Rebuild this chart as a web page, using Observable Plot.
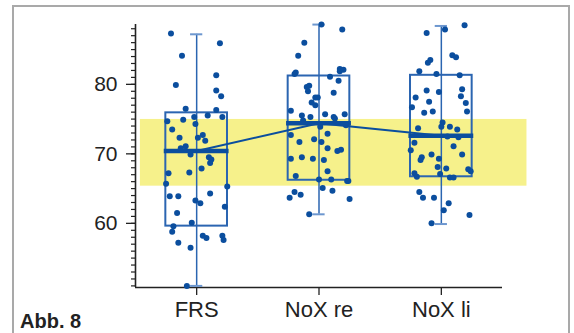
<!DOCTYPE html>
<html><head><meta charset="utf-8">
<script src="https://cdn.jsdelivr.net/npm/d3@7"></script>
<script src="https://cdn.jsdelivr.net/npm/@observablehq/plot@0.6"></script>
<style>
html,body{margin:0;padding:0;overflow:hidden;background:#fff;}
#wrap{position:relative;width:574px;height:333px;overflow:hidden;font-family:"Liberation Sans",Arial,sans-serif;}
#frame{position:absolute;left:12px;top:5px;width:554px;height:400px;border:2px solid #a9a9a9;}
#chart{position:absolute;left:0;top:0;}
#caption{position:absolute;left:20px;top:311px;font-size:20px;line-height:20px;font-weight:bold;color:#222;}
</style></head>
<body><div id="wrap"><div id="frame"></div><div id="chart"></div><div id="caption">Abb. 8</div></div>
<script>
// Categories and tick labels
const categories = ["FRS", "NoX re", "NoX li"];
const yMinorTicks = d3.range(51, 89);
const yMajorTicks = [60, 70, 80];
const yDomain = [50.77, 88.61];

// Box plot statistics per category
const q1 = [59.6, 66.2, 66.7];
const median = [70.4, 74.4, 72.6];
const q3 = [75.9, 81.2, 81.3];
const whiskerLo = [51.0, 61.3, 59.9];
const whiskerHi = [87.2, 88.6, 88.4];

// Reference range (yellow band): values and horizontal extent in category units
const refRange = [65.35, 74.95];
const refExtent = [0.54, 3.70];

// Individual observations: [horizontal jitter in category units, value]
const frsPoints = [[-0.21,87.3],[0.19,85.9],[-0.12,84.1],[0.16,81.3],[-0.17,79.9],[0.16,79.1],[0.20,78.3],[-0.09,76.5],[0.16,76.3],[-0.24,74.7],[-0.11,74.9],[-0.02,75.3],[0.09,75.5],[0.21,75.3],[-0.01,74.3],[-0.20,73.5],[-0.14,72.3],[0.01,72.3],[0.05,72.7],[0.07,71.9],[-0.09,71.1],[-0.13,70.8],[-0.05,69.9],[0.10,69.5],[0.12,69.2],[0.11,68.7],[-0.23,67.2],[-0.06,67.3],[0.04,67.9],[-0.25,65.7],[0.25,65.3],[-0.22,63.9],[-0.15,63.9],[0.11,64.3],[-0.01,63.3],[0.03,62.9],[0.23,62.4],[-0.16,61.5],[-0.04,60.1],[-0.19,59.6],[-0.20,58.8],[0.05,58.2],[0.08,57.9],[0.21,58.2],[0.22,57.6],[-0.15,57.2],[-0.05,56.5],[-0.08,51.0]];
const noxRePoints = [[0.02,88.6],[0.19,87.9],[-0.12,86.0],[-0.17,84.1],[-0.20,81.5],[-0.19,81.7],[0.17,82.2],[0.17,81.9],[0.20,82.1],[0.09,81.1],[0.16,80.5],[-0.10,79.6],[-0.08,79.8],[-0.09,79.0],[0.12,78.8],[-0.03,78.1],[-0.01,78.1],[-0.06,77.4],[-0.03,77.0],[-0.23,76.2],[-0.14,75.5],[-0.07,75.3],[0.05,75.7],[0.12,75.3],[0.13,75.1],[0.21,75.7],[-0.13,74.8],[0.01,73.9],[0.22,74.1],[-0.23,72.7],[0.07,72.9],[-0.16,71.7],[-0.04,72.1],[0.02,71.7],[0.07,70.8],[0.15,70.4],[0.18,70.6],[-0.23,69.3],[-0.14,69.5],[-0.05,69.3],[0.04,69.1],[0.07,67.5],[-0.19,66.8],[0.00,66.3],[0.10,66.3],[0.23,66.1],[0.24,66.1],[0.03,65.1],[0.11,64.7],[-0.20,64.5],[-0.15,64.1],[-0.24,63.7],[0.25,63.5],[-0.08,61.3]];
const noxLiPoints = [[0.19,88.5],[0.03,87.9],[-0.12,87.4],[0.09,84.2],[0.12,83.9],[-0.09,83.5],[-0.11,83.1],[-0.18,81.9],[-0.04,81.5],[0.15,81.3],[-0.12,79.1],[-0.02,78.9],[0.17,79.3],[0.16,78.3],[-0.21,78.1],[-0.10,77.5],[0.20,77.3],[-0.24,76.7],[0.21,76.1],[-0.14,75.9],[-0.07,76.1],[0.01,74.5],[0.00,73.9],[0.07,73.9],[-0.19,73.7],[0.13,73.5],[0.14,72.4],[0.05,72.5],[-0.22,71.6],[0.10,71.1],[-0.25,70.5],[-0.08,69.9],[0.17,69.9],[-0.16,69.5],[-0.17,69.1],[-0.02,69.3],[-0.03,68.1],[0.04,67.9],[0.22,67.8],[0.24,67.5],[-0.22,67.2],[-0.20,66.7],[-0.01,67.1],[0.07,66.6],[0.10,66.6],[-0.18,64.5],[-0.15,63.7],[-0.06,63.7],[0.06,62.9],[0.02,61.9],[0.23,61.2],[-0.08,60.0]];

const boxHalf = 0.252, medHalf = 0.265, capHalf = 0.05;
const blueBox = "#2b65b1", dark = "#0b4e9e", capColor = "#6d97cf", axisColor = "#222";

const stats = categories.map((c, i) => ({pos: i + 1, q1: q1[i], med: median[i], q3: q3[i], lo: whiskerLo[i], hi: whiskerHi[i]}));
const points = [frsPoints, noxRePoints, noxLiPoints].flatMap((arr, i) => arr.map(([j, v]) => ({x: i + 1 + j, y: v})));

const chart = Plot.plot({
  width: 574, height: 333,
  marginLeft: 135, marginRight: 72, marginTop: 24, marginBottom: 46,
  x: {type: "linear", domain: [0.5, 3.5]},
  y: {domain: yDomain},
  style: {fontFamily: "Liberation Sans, Arial, sans-serif", color: axisColor, background: "transparent"},
  marks: [
    Plot.rect([refRange], {x1: () => refExtent[0], x2: () => refExtent[1], y1: d => d[0], y2: d => d[1], fill: "#f6f18b"}),
    Plot.axisY(yMinorTicks, {tickSize: 4, tickFormat: () => "", stroke: axisColor, strokeWidth: 1.2}),
    Plot.axisY(yMajorTicks, {tickSize: 9, tickPadding: 9, fontSize: 21, tickFormat: d => String(d), stroke: axisColor, strokeWidth: 1.3, fill: axisColor}),
    Plot.axisX([1, 2, 3], {tickSize: 8, tickPadding: 6, fontSize: 22, tickFormat: d => categories[d - 1], stroke: axisColor, strokeWidth: 1.3, fill: axisColor}),
    Plot.ruleX([0.5], {stroke: axisColor, strokeWidth: 1.6}),
    Plot.ruleY([yDomain[0]], {stroke: axisColor, strokeWidth: 1.6}),
    Plot.ruleX(stats, {x: "pos", y1: "lo", y2: "hi", stroke: blueBox, strokeWidth: 1.5}),
    Plot.rect(stats, {x1: d => d.pos - boxHalf, x2: d => d.pos + boxHalf, y1: "q1", y2: "q3", fill: "none", stroke: blueBox, strokeWidth: 2}),
    Plot.ruleY(stats, {y: "hi", x1: d => d.pos - capHalf, x2: d => d.pos + capHalf, stroke: capColor, strokeWidth: 2}),
    Plot.ruleY(stats, {y: "lo", x1: d => d.pos - capHalf, x2: d => d.pos + capHalf, stroke: capColor, strokeWidth: 2}),
    Plot.dot(points, {x: "x", y: "y", r: 3, fill: dark, stroke: "none"}),
    Plot.ruleY(stats, {y: "med", x1: d => d.pos - medHalf, x2: d => d.pos + medHalf, stroke: dark, strokeWidth: 4.5}),
    Plot.line(stats, {x: "pos", y: "med", stroke: dark, strokeWidth: 2})
  ]
});
document.getElementById("chart").appendChild(chart);
</script>
</body></html>
